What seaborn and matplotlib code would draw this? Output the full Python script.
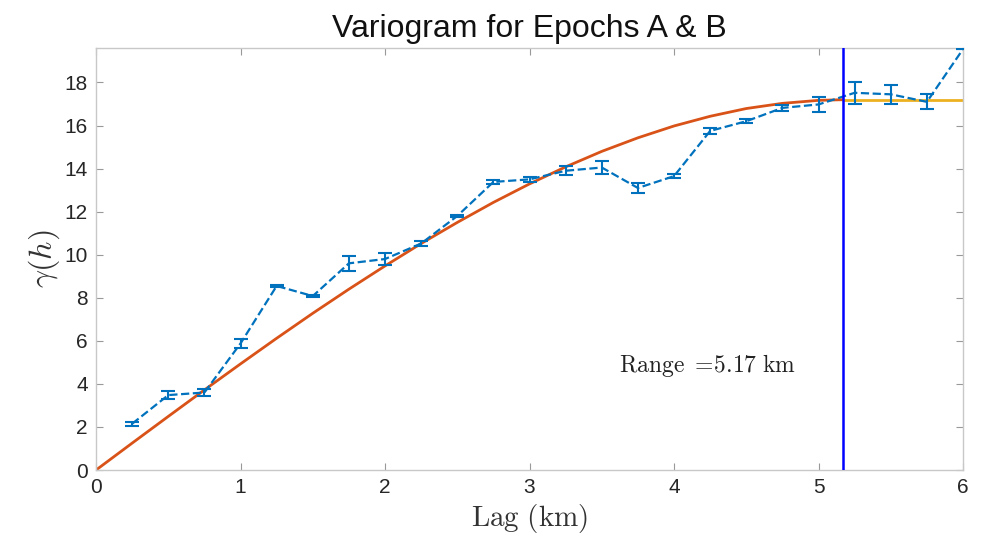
import numpy as np
import pandas as pd
import matplotlib
matplotlib.use("Agg")
import matplotlib.pyplot as plt
import seaborn as sns

lags = [0.25, 0.5, 0.75, 1.0, 1.25, 1.5, 1.75, 2.0, 2.25, 2.5, 2.75, 3.0,
        3.25, 3.5, 3.75, 4.0, 4.25, 4.5, 4.75, 5.0, 5.25, 5.5, 5.75, 6.0]
gamma = [2.15, 3.48, 3.6, 5.88, 8.55, 8.08, 9.6, 9.8, 10.52, 11.8, 13.38, 13.5,
         13.9, 14.05, 13.1, 13.65, 15.75, 16.2, 16.82, 16.98, 17.52, 17.45, 17.1, 19.55]
gamma_err = [0.1, 0.2, 0.15, 0.2, 0.05, 0.05, 0.35, 0.3, 0.1, 0.05, 0.08, 0.12,
             0.2, 0.28, 0.25, 0.1, 0.15, 0.1, 0.15, 0.35, 0.5, 0.45, 0.35, 0.0]

# fitted model curve
model_h = [0, 0.25, 0.5, 0.75, 1.0, 1.25, 1.5, 1.75, 2.0, 2.25, 2.5, 2.75, 3.0,
           3.25, 3.5, 3.75, 4.0, 4.25, 4.5, 4.75, 5.0, 5.17]
model_g = [0, 1.25, 2.49, 3.72, 4.93, 6.12, 7.28, 8.4, 9.48, 10.52, 11.5, 12.43,
           13.29, 14.08, 14.8, 15.43, 15.98, 16.43, 16.79, 17.03, 17.17, 17.2]

sill_h = [5.17, 6.0]
sill_g = [17.2, 17.2]
range_km = 5.17

exp_df = pd.DataFrame({"lag": lags, "gamma": gamma})
model_df = pd.DataFrame({"lag": model_h, "gamma": model_g})
sill_df = pd.DataFrame({"lag": sill_h, "gamma": sill_g})

sns.set_theme(style="white")
plt.rcParams['font.family'] = ['Liberation Sans', 'DejaVu Sans']
plt.rcParams['mathtext.fontset'] = 'cm'

fig = plt.figure(figsize=(9.84, 5.36), dpi=100)
ax = fig.add_axes([0.0976, 0.1231, 0.8811, 0.7873])

blue = "#0072BD"
ax.errorbar(lags, gamma, yerr=gamma_err, fmt='none', ecolor=blue,
            elinewidth=1.5, capsize=5, capthick=1.5, zorder=3)
sns.lineplot(data=exp_df, x="lag", y="gamma", ax=ax, color=blue,
             linestyle='--', linewidth=1.6, zorder=3)
sns.lineplot(data=model_df, x="lag", y="gamma", ax=ax, color="#D95319",
             linewidth=2.0, zorder=2)
sns.lineplot(data=sill_df, x="lag", y="gamma", ax=ax, color="#EDB120",
             linewidth=2.0, zorder=2)
ax.axvline(range_km, color="#0000FF", linewidth=1.8, zorder=4)

ax.text(3.62, 4.85, r"$\mathrm{Range}\ =\!5.17\ \mathrm{km}$", fontsize=17,
        color="#222222", va="center", ha="left")

ax.set_xlim(0, 6)
ax.set_ylim(0, 19.6)
ax.set_xticks(range(0, 7))
ax.set_yticks(range(0, 20, 2))
ax.tick_params(direction='in', length=5, width=0.8, color="#999999",
               labelsize=15, labelcolor="#262626", top=True, right=True,
               bottom=True, left=True, pad=6)
for sp in ax.spines.values():
    sp.set_color("#c8c8c8")
    sp.set_linewidth(1.0)

ax.set_title("Variogram for Epochs A & B", fontsize=23, color="#111111", pad=8)
ax.set_xlabel(r"$\mathrm{Lag\ (km)}$", fontsize=21, color="#333333", labelpad=3)
ax.set_ylabel(r"$\gamma(h)$", fontsize=23, color="#333333", labelpad=2)

fig.savefig("out.png", dpi=100)
